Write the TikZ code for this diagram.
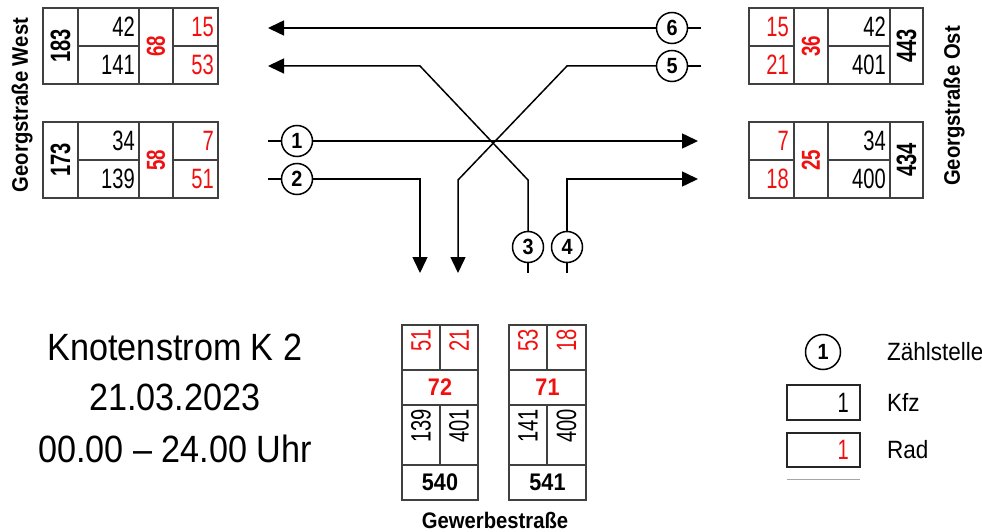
\documentclass[tikz,border=0pt]{standalone}
\usepackage{fontspec}
\setmainfont{Liberation Sans}[FakeStretch=0.9]
\newfontfamily\narrowf{Liberation Sans}[FakeStretch=0.72]
\usetikzlibrary{arrows.meta}
\definecolor{tabline}{HTML}{404040}
\definecolor{rd}{HTML}{F01010}
\begin{document}
\begin{tikzpicture}[x=1pt,y=-1pt,
  tab/.style={draw=tabline,line width=1.2pt},
  num/.style={font=\narrowf\fontsize{28}{28}\selectfont,inner sep=0pt},
  rnum/.style={num,text=rd},
  sidenum/.style={font=\narrowf\bfseries\fontsize{28}{28}\selectfont,inner sep=0pt,rotate=90},
  midnum/.style={font=\narrowf\bfseries\fontsize{26}{26}\selectfont,inner sep=0pt,rotate=90,text=rd},
  sumnum/.style={font=\bfseries\fontsize{24}{24}\selectfont,inner sep=0pt},
  street/.style={font=\bfseries\fontsize{22.5}{22.5}\selectfont,inner sep=0pt},
  zs/.style={draw,circle,line width=1.5pt,minimum size=31pt,inner sep=0pt,font=\bfseries\fontsize{22}{22}\selectfont},
  flow/.style={line width=1.5pt},
  arr/.style={flow,-{Triangle[length=16pt,width=15pt]}},
  legtxt/.style={font=\fontsize{25}{25}\selectfont,inner sep=0pt,anchor=west},
  title/.style={font=\fontsize{38}{38}\selectfont,inner sep=0pt,anchor=base}
]
\useasboundingbox (0,0) rectangle (982,532);

% ---------- West tables ----------
\foreach \yy/\tot/\ka/\kb/\rs/\ra/\rb/\nm in {8/183/42/141/68/15/53/wa,122/173/34/139/58/7/51/wb}{
  \draw[tab] (43,\yy) rectangle (218,\yy+76);
  \draw[tab] (78,\yy) -- (78,\yy+76) (139,\yy) -- (139,\yy+76) (173,\yy) -- (173,\yy+76);
  \draw[tab] (78,\yy+38) -- (139,\yy+38) (173,\yy+38) -- (218,\yy+38);
  \node[sidenum] (\nm t) at (60.5,\yy+38) {\tot};
  \node[num,anchor=east] (\nm ka) at (135,\yy+19) {\ka};
  \node[num,anchor=east] (\nm kb) at (135,\yy+57) {\kb};
  \node[midnum] (\nm rs) at (156,\yy+38) {\rs};
  \node[rnum,anchor=east] (\nm ra) at (214,\yy+19) {\ra};
  \node[rnum,anchor=east] (\nm rb) at (214,\yy+57) {\rb};
}
% ---------- Ost tables ----------
\foreach \yy/\tot/\ka/\kb/\rs/\ra/\rb/\nm in {8/443/42/401/36/15/21/oa,122/434/34/400/25/7/18/ob}{
  \draw[tab] (749,\yy) rectangle (923,\yy+76);
  \draw[tab] (794,\yy) -- (794,\yy+76) (828,\yy) -- (828,\yy+76) (890,\yy) -- (890,\yy+76);
  \draw[tab] (749,\yy+38) -- (794,\yy+38) (828,\yy+38) -- (890,\yy+38);
  \node[rnum,anchor=east] (\nm ra) at (789,\yy+19) {\ra};
  \node[rnum,anchor=east] (\nm rb) at (789,\yy+57) {\rb};
  \node[midnum] (\nm rs) at (811,\yy+38) {\rs};
  \node[num,anchor=east] (\nm ka) at (886,\yy+19) {\ka};
  \node[num,anchor=east] (\nm kb) at (886,\yy+57) {\kb};
  \node[sidenum] (\nm t) at (906.5,\yy+38) {\tot};
}
% ---------- Gewerbestrasse tables ----------
\foreach \xa/\xm/\xb/\ra/\rb/\rs/\ka/\kb/\tot/\nm in {402/440/478/51/21/72/139/401/540/ga,509/547/586/53/18/71/141/400/541/gb}{
  \draw[tab] (\xa,325) rectangle (\xb,500);
  \draw[tab] (\xa,370) -- (\xb,370) (\xa,405) -- (\xb,405) (\xa,465) -- (\xb,465);
  \draw[tab] (\xm,325) -- (\xm,370) (\xm,405) -- (\xm,465);
  \node[rnum,rotate=90,anchor=east] (\nm ra) at ({(\xa+\xm)/2},329) {\ra};
  \node[rnum,rotate=90,anchor=east] (\nm rb) at ({(\xm+\xb)/2},329) {\rb};
  \node[sumnum,text=rd] (\nm rs) at ({(\xa+\xb)/2},387.5) {\rs};
  \node[num,rotate=90,anchor=east] (\nm ka) at ({(\xa+\xm)/2},409) {\ka};
  \node[num,rotate=90,anchor=east] (\nm kb) at ({(\xm+\xb)/2},409) {\kb};
  \node[sumnum] (\nm t) at ({(\xa+\xb)/2},482.5) {\tot};
}

% ---------- street names ----------
\node[street,rotate=90] (gw) at (22,105) {Georgstraße West};
\node[street,rotate=90] (go) at (954,106) {Georgstraße Ost};
\node[street] (gs) at (495,520) {Gewerbestraße};

% ---------- counting points and flows ----------
\node[zs] (c6) at (672,28) {6};
\node[zs] (c5) at (672,66) {5};
\node[zs] (c1) at (297,141) {1};
\node[zs] (c2) at (297,179) {2};
\node[zs] (c3) at (528,247) {3};
\node[zs] (c4) at (567,247) {4};

\coordinate (s6) at (701,28);  \coordinate (e6) at (268,28);
\coordinate (s5) at (701,66);  \coordinate (k5a) at (567,66); \coordinate (k5b) at (458,180); \coordinate (e5) at (458,273);
\coordinate (s3) at (528,273); \coordinate (k3a) at (528,180); \coordinate (k3b) at (420,66); \coordinate (e3) at (268,66);
\coordinate (s1) at (268,141); \coordinate (e1) at (698,141);
\coordinate (s2) at (268,179); \coordinate (k2) at (420,179); \coordinate (e2) at (420,273);
\coordinate (s4) at (567,273); \coordinate (k4) at (567,179); \coordinate (e4) at (698,179);

\draw[flow] (s6) -- (c6);
\draw[arr] (c6) -- (e6);
\draw[flow] (s5) -- (c5);
\draw[arr] (c5) -- (k5a) -- (k5b) -- (e5);
\draw[flow] (c3) -- (s3);
\draw[arr] (c3) -- (k3a) -- (k3b) -- (e3);
\draw[flow] (s1) -- (c1);
\draw[arr] (c1) -- (e1);
\draw[flow] (s2) -- (c2);
\draw[arr] (c2) -- (k2) -- (e2);
\draw[flow] (c4) -- (s4);
\draw[arr] (c4) -- (k4) -- (e4);

% ---------- title ----------
\node[title] (t1) at (175,360) {Knotenstrom K 2};
\node[title] (t2) at (175,410) {21.03.2023};
\node[title] (t3) at (175,462) {00.00 – 24.00 Uhr};

% ---------- legend ----------
\node[zs,minimum size=35pt] (lc) at (823,352) {1};
\node[legtxt] (lzs) at (887,352) {Zählstelle};
\node[draw=black!85,line width=1.5pt,minimum width=73pt,minimum height=35pt,inner sep=0pt] (lkfz) at (823.5,402.5) {};
\node[num,anchor=east] (lkfzn) at (849,402.5) {1};
\node[legtxt] (lkfzt) at (887,402) {Kfz};
\node[draw=black!85,line width=1.5pt,minimum width=73pt,minimum height=34pt,inner sep=0pt] (lrad) at (823.5,450) {};
\node[rnum,anchor=east] (lradn) at (849,450) {1};
\node[legtxt] (lradt) at (887,450) {Rad};
\draw[black!35,line width=1pt] (787,479) -- (860,479);
\end{tikzpicture}
\end{document}
